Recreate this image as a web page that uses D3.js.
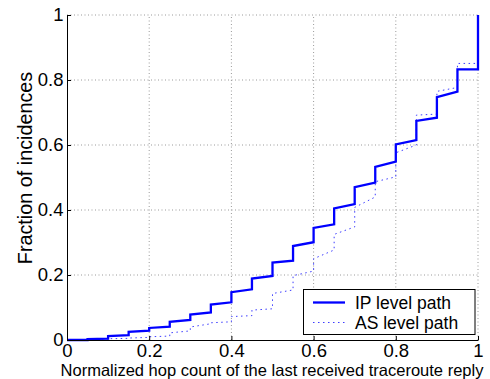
<!DOCTYPE html>
<html>
<head>
<meta charset="utf-8">
<script src="https://cdn.jsdelivr.net/npm/d3@7"></script>
<style>
  body { margin: 0; background: #fff; }
  svg { display: block; font-family: "Liberation Sans", Arial, Helvetica, sans-serif; }
</style>
</head>
<body>
<svg id="chart" width="490" height="379"></svg>
<script>
// left edge of each step (normalized hop count)
const stepX = [0, 0.05, 0.1, 0.15, 0.2, 0.25, 0.3, 0.35, 0.4, 0.45,
               0.5, 0.55, 0.6, 0.65, 0.7, 0.75, 0.8, 0.85, 0.9, 0.95];

// IP level path: value just after each step, and just before the next one
const ipStart = [0, 0.003, 0.012, 0.025, 0.037, 0.056, 0.078, 0.109, 0.147, 0.189,
                 0.238, 0.289, 0.345, 0.405, 0.470, 0.533, 0.602, 0.674, 0.747, 0.833];
const ipEnd = [0, 0.004, 0.015, 0.029, 0.041, 0.062, 0.085, 0.116, 0.156, 0.197,
               0.244, 0.301, 0.356, 0.418, 0.484, 0.549, 0.615, 0.684, 0.764, 0.833];

// AS level path
const asStart = [0, 0, 0.004, 0.006, 0.010, 0.022, 0.040, 0.053, 0.072, 0.092,
                 0.143, 0.198, 0.250, 0.325, 0.408, 0.487, 0.576, 0.692, 0.765, 0.851];
const asEnd = [0, 0, 0.005, 0.008, 0.012, 0.028, 0.050, 0.056, 0.075, 0.096,
               0.154, 0.212, 0.277, 0.348, 0.440, 0.502, 0.600, 0.695, 0.777, 0.851];

const tickVals = [0, 0.2, 0.4, 0.6, 0.8, 1];
const tickLabels = ["0", "0.2", "0.4", "0.6", "0.8", "1"];
const seriesNames = ["IP level path", "AS level path"];

const svg = d3.select("#chart");
const x = d3.scaleLinear().domain([0, 1]).range([67, 478]);
const y = d3.scaleLinear().domain([0, 1]).range([340, 15]);

// build step vertices: flat-ish run, then vertical jump at the next step
function stepPoints(starts, ends) {
  const pts = [];
  stepX.forEach((sx, i) => {
    const nx = i + 1 < stepX.length ? stepX[i + 1] : 1;
    pts.push([sx, starts[i]]);
    pts.push([nx, ends[i]]);
  });
  pts.push([1, 1]);
  return pts;
}

// grid
const grid = svg.append("g").attr("class", "grid");
tickVals.slice(1).forEach(v => {
  grid.append("line")
    .attr("x1", x(v)).attr("x2", x(v))
    .attr("y1", y(0)).attr("y2", y(1));
  grid.append("line")
    .attr("x1", x(0)).attr("x2", x(1))
    .attr("y1", y(v)).attr("y2", y(v));
});
grid.selectAll("line")
  .attr("stroke", "#9a9a9a")
  .attr("stroke-width", 1)
  .attr("stroke-dasharray", "1,2.5");

const line = d3.line().x(d => x(d[0])).y(d => y(d[1]));

// AS level path (dotted)
svg.append("path")
  .attr("d", line(stepPoints(asStart, asEnd)))
  .attr("fill", "none")
  .attr("stroke", "#3c3cff")
  .attr("stroke-width", 1)
  .attr("stroke-dasharray", "1.5,3.5");

// IP level path (solid)
svg.append("path")
  .attr("d", line(stepPoints(ipStart, ipEnd)))
  .attr("fill", "none")
  .attr("stroke", "#0000ff")
  .attr("stroke-width", 2.3);

// axes
const xAxis = d3.axisBottom(x)
  .tickValues(tickVals)
  .tickFormat((d, i) => tickLabels[i])
  .tickSize(-4)
  .tickSizeOuter(0)
  .tickPadding(3.5);
const yAxis = d3.axisLeft(y)
  .tickValues(tickVals)
  .tickFormat((d, i) => tickLabels[i])
  .tickSize(-4)
  .tickSizeOuter(0)
  .tickPadding(3.5);

const gx = svg.append("g").attr("transform", "translate(0," + y(0) + ")").call(xAxis);
const gy = svg.append("g").attr("transform", "translate(" + x(0) + ",0)").call(yAxis);
[gx, gy].forEach(g => {
  g.selectAll("text")
    .attr("font-size", "18.5px")
    .attr("font-family", "Liberation Sans, Arial, sans-serif")
    .attr("fill", "#000");
  g.selectAll("line, path").attr("stroke", "#000");
});

// axis titles
svg.append("text")
  .attr("x", 272)
  .attr("y", 376)
  .attr("text-anchor", "middle")
  .attr("font-size", "16.5px")
  .text("Normalized hop count of the last received traceroute reply");

svg.append("text")
  .attr("transform", "translate(31.5,168) rotate(-90)")
  .attr("text-anchor", "middle")
  .attr("font-size", "19.8px")
  .text("Fraction of incidences");

// legend
const legend = svg.append("g");
legend.append("rect")
  .attr("x", 303.5)
  .attr("y", 289.5)
  .attr("width", 171.5)
  .attr("height", 45)
  .attr("fill", "#fff")
  .attr("stroke", "#000")
  .attr("stroke-width", 1);

legend.append("line")
  .attr("x1", 313).attr("x2", 345)
  .attr("y1", 302.5).attr("y2", 302.5)
  .attr("stroke", "#0000ff")
  .attr("stroke-width", 2.3);
legend.append("line")
  .attr("x1", 313).attr("x2", 345)
  .attr("y1", 322.5).attr("y2", 322.5)
  .attr("stroke", "#3c3cff")
  .attr("stroke-width", 1)
  .attr("stroke-dasharray", "1.5,3.5");

seriesNames.forEach((name, i) => {
  legend.append("text")
    .attr("x", 355)
    .attr("y", 308.5 + i * 20)
    .attr("font-size", "17.5px")
    .text(name);
});
</script>
</body>
</html>
